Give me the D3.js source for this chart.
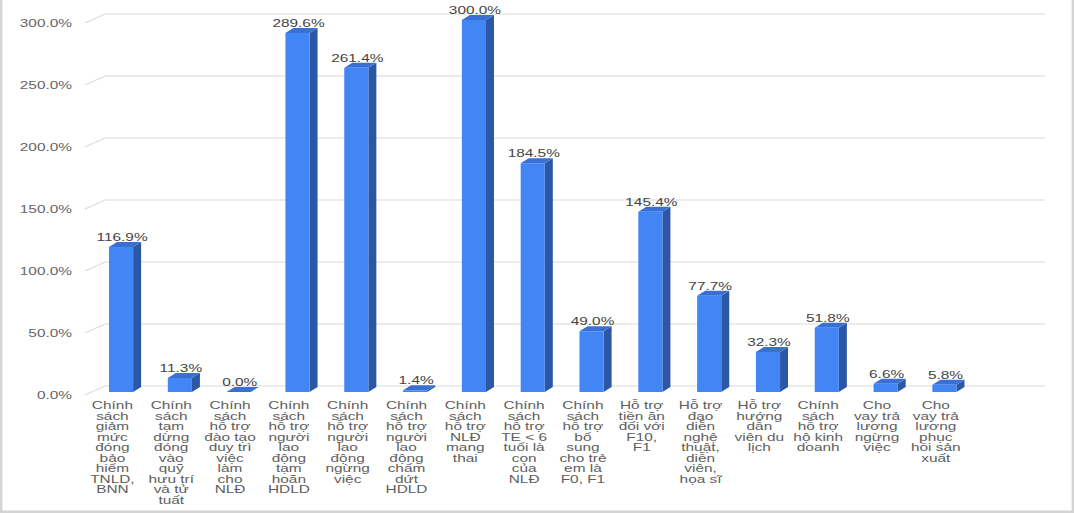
<!DOCTYPE html>
<html>
<head>
<meta charset="utf-8">
<script src="https://cdn.jsdelivr.net/npm/d3@7"></script>
<style>
  html, body { margin: 0; padding: 0; background: #fff; }
  svg { display: block; font-family: "Liberation Sans", Arial, sans-serif; }
</style>
</head>
<body>
<svg id="chart" width="1074" height="513"></svg>
<script>
// ---- data ----
const categories = [
  "Chính sách giảm mức đóng bảo hiểm TNLD, BNN",
  "Chính sách tạm dừng đóng vào quỹ hưu trí và tử tuất",
  "Chính sách hỗ trợ đào tạo duy trì việc làm cho NLĐ",
  "Chính sách hỗ trợ người lao động tạm hoãn HDLD",
  "Chính sách hỗ trợ người lao động ngừng việc",
  "Chính sách hỗ trợ người lao động chấm dứt HDLD",
  "Chính sách hỗ trợ NLĐ mang thai",
  "Chính sách hỗ trợ TE < 6 tuổi là con của NLĐ",
  "Chính sách hỗ trợ bổ sung cho trẻ em là F0, F1",
  "Hỗ trợ tiền ăn đối với F10, F1",
  "Hỗ trợ đạo diễn nghệ thuật, diễn viên, họa sĩ",
  "Hỗ trợ hướng dẫn viên du lịch",
  "Chính sách hỗ trợ hộ kinh doanh",
  "Cho vay trả lương ngừng việc",
  "Cho vay trả lương phục hồi sản xuất"
];
const categoryLines = [
  ["Chính","sách","giảm","mức","đóng","bảo","hiểm","TNLD,","BNN"],
  ["Chính","sách","tạm","dừng","đóng","vào","quỹ","hưu trí","và tử","tuất"],
  ["Chính","sách","hỗ trợ","đào tạo","duy trì","việc","làm","cho","NLĐ"],
  ["Chính","sách","hỗ trợ","người","lao","động","tạm","hoãn","HDLD"],
  ["Chính","sách","hỗ trợ","người","lao","động","ngừng","việc"],
  ["Chính","sách","hỗ trợ","người","lao","động","chấm","dứt","HDLD"],
  ["Chính","sách","hỗ trợ","NLĐ","mang","thai"],
  ["Chính","sách","hỗ trợ","TE < 6","tuổi là","con","của","NLĐ"],
  ["Chính","sách","hỗ trợ","bổ","sung","cho trẻ","em là","F0, F1"],
  ["Hỗ trợ","tiền ăn","đối với","F10,","F1"],
  ["Hỗ trợ","đạo","diễn","nghệ","thuật,","diễn","viên,","họa sĩ"],
  ["Hỗ trợ","hướng","dẫn","viên du","lịch"],
  ["Chính","sách","hỗ trợ","hộ kinh","doanh"],
  ["Cho","vay trả","lương","ngừng","việc"],
  ["Cho","vay trả","lương","phục","hồi sản","xuất"]
];
const values = [116.9, 11.3, 0.0, 289.6, 261.4, 1.4, 300.0, 184.5, 49.0, 145.4, 77.7, 32.3, 51.8, 6.6, 5.8];
const yTicks = [0, 50, 100, 150, 200, 250, 300];

// ---- layout ----
const svg = d3.select("#chart");
const W = 1074, H = 513;
const SX = 1.4;             // horizontal text stretch seen in the reference
const depthX = 20, depthY = 9;   // floor depth of 3D plot
const barDX = 8, barDY = 5;      // bar depth

const slots = d3.range(categories.length + 1); // one empty trailing slot
const x = d3.scaleBand().domain(slots).range([83, 1024]).padding(0);
const yFront = d3.scaleLinear().domain([0, 300]).range([395, 23]);
const yBar = d3.scaleLinear().domain([0, 300]).range([392, 20]);

// border
svg.append("rect").attr("x", 0).attr("y", 0).attr("width", W).attr("height", H).attr("fill", "#ffffff");
svg.append("path")
  .attr("d", `M1.2,0 V511.8 H1072.8 V0`)
  .attr("fill", "none").attr("stroke", "#d4d4d4").attr("stroke-width", 2.4);

// gridlines (3D: front diagonal + back wall)
const grid = svg.append("g");
yTicks.forEach(v => {
  const yf = yFront(v);
  grid.append("path")
    .attr("d", `M85,${yf} L${85 + depthX},${yf - depthY} L${1024 + depthX + 1},${yf - depthY}`)
    .attr("fill", "none").attr("stroke", "#dadada").attr("stroke-width", 1.2);
});

// y tick labels
const fmt = v => v.toFixed(1) + "%";
svg.append("g").selectAll("text").data(yTicks).join("text")
  .attr("transform", d => `translate(72,${yFront(d) + 3.5}) scale(${SX},1)`)
  .attr("text-anchor", "end")
  .attr("font-size", 11)
  .attr("fill", "#666")
  .text(d => fmt(d));

// bars
const data = values.map((v, i) => ({ i, v }));
const bx = d => x(d.i) + x.bandwidth() * 0.442;
const bw = x.bandwidth() * 0.41;
const barG = svg.append("g");
data.forEach(d => {
  const x0 = bx(d), x1 = x0 + bw;
  const yb = yBar(0), yt = yBar(d.v);
  // side
  barG.append("path")
    .attr("d", `M${x1},${yb} L${x1 + barDX},${yb - barDY} L${x1 + barDX},${yt - barDY} L${x1},${yt} Z`)
    .attr("fill", "#2b57a4");
  // top
  barG.append("path")
    .attr("d", `M${x0},${yt} L${x0 + barDX},${yt - barDY} L${x1 + barDX},${yt - barDY} L${x1},${yt} Z`)
    .attr("fill", "#3a70d4");
  // front
  if (yb - yt > 0.01) {
    barG.append("rect")
      .attr("x", x0).attr("y", yt).attr("width", bw).attr("height", yb - yt)
      .attr("fill", "#4285f4");
  }
});

// value labels
svg.append("g").selectAll("text").data(data).join("text")
  .attr("transform", d => `translate(${bx(d) + bw / 2 + 1},${yBar(d.v) - 6}) scale(${SX},1)`)
  .attr("text-anchor", "middle")
  .attr("font-size", 11)
  .attr("fill", "#444")
  .text(d => fmt(d.v));

// category labels
const catG = svg.append("g");
categoryLines.forEach((lines, i) => {
  const cx = x(i) + x.bandwidth() / 2;
  lines.forEach((ln, k) => {
    catG.append("text")
      .attr("transform", `translate(${cx},${409 + k * 10.5}) scale(${SX},1)`)
      .attr("text-anchor", "middle")
      .attr("font-size", 11)
      .attr("fill", "#5e5e5e")
      .text(ln);
  });
});
</script>
</body>
</html>
